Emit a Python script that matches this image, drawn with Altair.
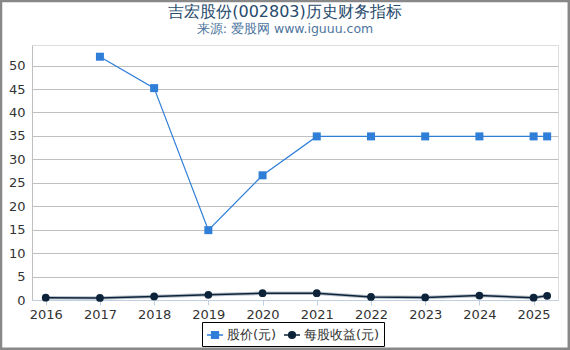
import altair as alt
import pandas as pd

years_price = [2017, 2018, 2019, 2020, 2021, 2022, 2023, 2024, 2025, 2025.25]
price = [51.9, 45.2, 14.9, 26.6, 34.9, 34.9, 34.9, 34.9, 34.9, 34.9]
years_eps = [2016, 2017, 2018, 2019, 2020, 2021, 2022, 2023, 2024, 2025, 2025.25]
eps = [0.5, 0.45, 0.75, 1.1, 1.45, 1.45, 0.65, 0.55, 0.95, 0.5, 0.9]
series_names = ["股价(元)", "每股收益(元)"]
year_ticks = [2016, 2017, 2018, 2019, 2020, 2021, 2022, 2023, 2024, 2025]

df_price = pd.DataFrame({"year": years_price, "value": price, "series": series_names[0]})
df_eps = pd.DataFrame({"year": years_eps, "value": eps, "series": series_names[1]})
df_all = pd.concat([df_price, df_eps])

FONT = "DejaVu Sans"
C_PRICE = "#2f7ed8"
C_EPS = "#0d233a"

x = alt.X("year:Q", scale=alt.Scale(domain=[2015.747, 2025.45], nice=False, zero=False),
          axis=alt.Axis(values=year_ticks, format="d", title=None, grid=False,
                        labelFontSize=13, labelColor="#333333", labelFont=FONT,
                        domainColor="#C0D0E0", tickColor="#C0D0E0", tickSize=5,
                        labelPadding=3))
y = alt.Y("value:Q", scale=alt.Scale(domain=[0, 54.4], nice=False),
          axis=alt.Axis(values=list(range(0, 55, 5)), title=None, grid=True,
                        gridColor="#C0C0C0", ticks=False, labelFontSize=13,
                        labelColor="#333333", labelFont=FONT, domainColor="#C0C0C0",
                        labelPadding=7))

price_line = alt.Chart(df_price).mark_line(color=C_PRICE, strokeWidth=1.2).encode(x=x, y=y)
price_pts = alt.Chart(df_price).mark_point(shape="square", filled=True, color=C_PRICE,
                                           size=64, opacity=1).encode(x=x, y=y)
eps_shadow = alt.Chart(df_eps).mark_line(color="#8a9aaa", strokeWidth=3.5, opacity=0.6).encode(x=x, y=y)
eps_line = alt.Chart(df_eps).mark_line(color=C_EPS, strokeWidth=1.5).encode(x=x, y=y)
eps_pts = alt.Chart(df_eps).mark_point(shape="circle", filled=True, color=C_EPS,
                                       size=60, opacity=1).encode(x=x, y=y)

sq_path = "M-1,0H1M-0.42,-0.42H0.42V0.42H-0.42Z"
ci_path = "M-1,0H1M0.42,0A0.42,0.42 0 1,1 -0.42,0A0.42,0.42 0 1,1 0.42,0Z"
legend_layer = alt.Chart(df_all).mark_point(filled=True, strokeWidth=1.5, opacity=1).encode(
    x=x, y=y,
    shape=alt.Shape("series:N", scale=alt.Scale(domain=series_names, range=[sq_path, ci_path]),
                    legend=alt.Legend(title=None, orient="none", legendX=170, legendY=277,
                                      direction="horizontal", strokeColor="black",
                                      padding=4, symbolSize=256, labelFontSize=13,
                                      labelFont=FONT, labelColor="#333333",
                                      symbolStrokeWidth=1.5, columnPadding=4,
                                      labelOffset=3)),
    fill=alt.Fill("series:N", scale=alt.Scale(domain=series_names, range=[C_PRICE, C_EPS]),
                  legend=alt.Legend(title=None)),
    stroke=alt.Stroke("series:N", scale=alt.Scale(domain=series_names, range=[C_PRICE, C_EPS]),
                      legend=alt.Legend(title=None)),
    size=alt.value(0),
)

border = alt.Chart(df_all).mark_rect(fill=None, stroke="#888888", strokeWidth=2.5,
                                     clip=False).encode(
    x=alt.value(-31), x2=alt.value(536.8), y=alt.value(-44), y2=alt.value(303.8)
).transform_filter("datum.year == 2016")

chart = alt.layer(border, price_line, eps_shadow, eps_line, price_pts, eps_pts, legend_layer).properties(
    width=526, height=255,
    title=alt.TitleParams(text="吉宏股份(002803)历史财务指标", subtitle="来源: 爱股网 www.iguuu.com",
                          fontSize=16, subtitleFontSize=12.5, color="#274b6d",
                          subtitleColor="#4d759e", font=FONT, subtitleFont=FONT,
                          fontWeight="normal", anchor="middle", dx=-10, offset=-36,
                          subtitlePadding=3, frame="group"),
    padding={"left": 32, "top": 45, "right": 12, "bottom": 50},
    autosize=alt.AutoSizeParams(type="none"),
).configure_view(stroke=None).configure(background="white")

chart.save("out.html", embed_options={"renderer": "svg", "actions": False})
